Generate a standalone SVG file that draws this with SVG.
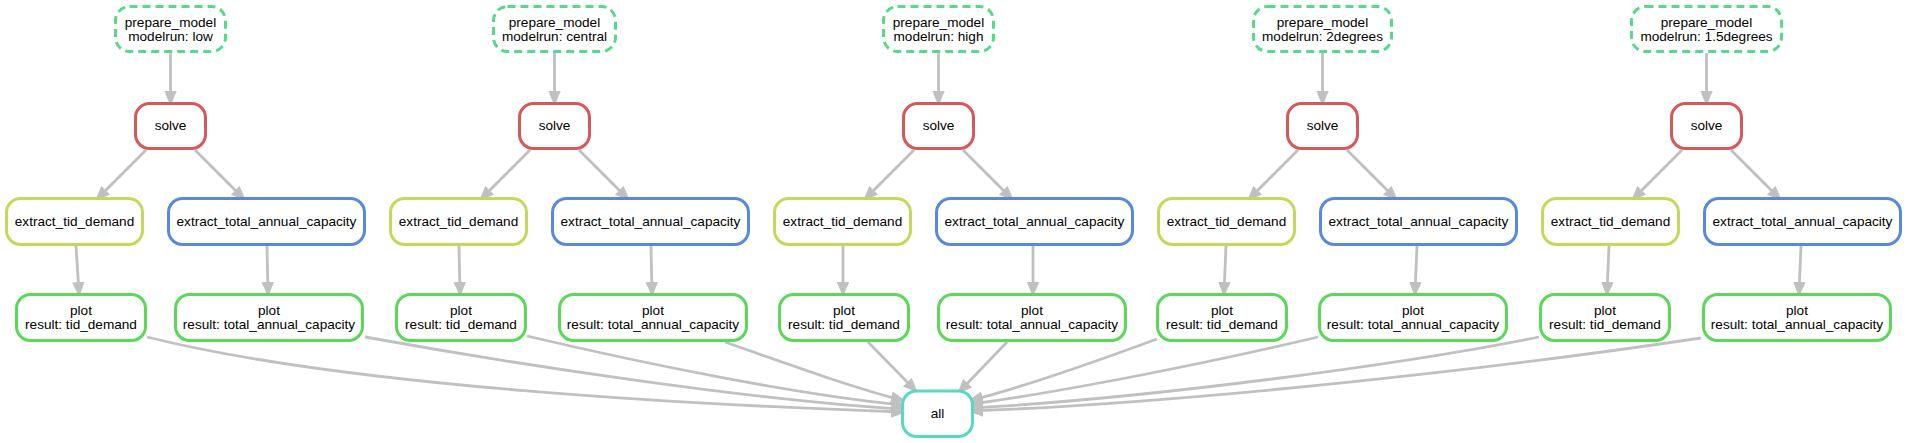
<svg xmlns="http://www.w3.org/2000/svg" width="1907" height="443" viewBox="0 0 1907 443">
<style>
.n rect{fill:#fff;stroke-width:3}
.n text{font-family:"Liberation Sans",Arial,sans-serif;font-size:13.6px;fill:#000;text-anchor:middle}
.prep rect{stroke:#57d98b;stroke-dasharray:8,5}
.solve rect{stroke:#d95757}
.tid rect{stroke:#c5d957}
.tot rect{stroke:#578bd9}
.plot rect{stroke:#5ad957}
.all rect{stroke:#57d9c1}
#edges path{fill:none;stroke:#c0c0c0;stroke-width:2.8;marker-end:url(#ah)}
</style>
<defs>
<marker id="ah" markerUnits="userSpaceOnUse" markerWidth="16" markerHeight="13" refX="11" refY="6.5" orient="auto">
<path d="M0,0.3 L15,6.5 L0,12.7 z" fill="#c0c0c0"/>
</marker>
</defs>
<g id="edges">
<!-- group 1 -->
<path d="M170.5,53 L170.5,102"/>
<path d="M146,150 L98,198"/>
<path d="M195,150 L243,198"/>
<path d="M76,246 L79,293"/>
<path d="M267,246 L268,293"/>
<!-- group 2 -->
<path d="M554.5,53 L554.5,102"/>
<path d="M530,150 L482,198"/>
<path d="M579,150 L627,198"/>
<path d="M459,246 L460,293"/>
<path d="M651,246 L652,293"/>
<!-- group 3 -->
<path d="M938.5,53 L938.5,102"/>
<path d="M914,150 L866,198"/>
<path d="M963,150 L1011,198"/>
<path d="M843,246 L843,293"/>
<path d="M1033,246 L1033,293"/>
<!-- group 4 -->
<path d="M1322.5,53 L1322.5,102"/>
<path d="M1298,150 L1250,198"/>
<path d="M1347,150 L1395,198"/>
<path d="M1226,246 L1224,293"/>
<path d="M1417,246 L1415,293"/>
<!-- group 5 -->
<path d="M1706.5,53 L1706.5,102"/>
<path d="M1682,150 L1634,198"/>
<path d="M1731,150 L1779,198"/>
<path d="M1609,246 L1607,293"/>
<path d="M1801,246 L1799,293"/>
<!-- to all -->
<path d="M147,337 C347,387 700,405 902,412"/>
<path d="M365,337 C520,365 750,400 902,409"/>
<path d="M527,336 C650,365 800,395 902,405"/>
<path d="M725,342 C790,365 860,390 902,400"/>
<path d="M868,342 L915,390"/>
<path d="M1007,342 L960,391"/>
<path d="M1157,339 C1100,360 1020,388 972,400"/>
<path d="M1318,337 C1200,365 1060,392 972,404"/>
<path d="M1539,337 C1400,365 1150,398 972,408"/>
<path d="M1701,338 C1500,368 1200,402 972,411"/>
</g>
<!-- group 1 -->
<g id="prep_low" class="n prep"><rect x="115.5" y="6.5" width="110" height="45" rx="14"/><text x="170.5" y="27">prepare_model</text><text x="170.5" y="41">modelrun: low</text></g>
<g id="solve_low" class="n solve"><rect x="135.5" y="103.5" width="70" height="45" rx="14"/><text x="170.5" y="130">solve</text></g>
<g id="tid_low" class="n tid"><rect x="6.5" y="198.5" width="136" height="46" rx="14"/><text x="74.5" y="226">extract_tid_demand</text></g>
<g id="tot_low" class="n tot"><rect x="168.5" y="198.5" width="196" height="46" rx="14"/><text x="266.5" y="226">extract_total_annual_capacity</text></g>
<g id="plottid_low" class="n plot"><rect x="16.5" y="294.5" width="129" height="46" rx="14"/><text x="81" y="315">plot</text><text x="81" y="329">result: tid_demand</text></g>
<g id="plottot_low" class="n plot"><rect x="175.5" y="294.5" width="187" height="46" rx="14"/><text x="269" y="315">plot</text><text x="269" y="329">result: total_annual_capacity</text></g>
<!-- group 2 -->
<g id="prep_central" class="n prep"><rect x="493.5" y="6.5" width="122" height="45" rx="14"/><text x="554.5" y="27">prepare_model</text><text x="554.5" y="41">modelrun: central</text></g>
<g id="solve_central" class="n solve"><rect x="519.5" y="103.5" width="70" height="45" rx="14"/><text x="554.5" y="130">solve</text></g>
<g id="tid_central" class="n tid"><rect x="390.5" y="198.5" width="136" height="46" rx="14"/><text x="458.5" y="226">extract_tid_demand</text></g>
<g id="tot_central" class="n tot"><rect x="552.5" y="198.5" width="196" height="46" rx="14"/><text x="650.5" y="226">extract_total_annual_capacity</text></g>
<g id="plottid_central" class="n plot"><rect x="396.5" y="294.5" width="129" height="46" rx="14"/><text x="461" y="315">plot</text><text x="461" y="329">result: tid_demand</text></g>
<g id="plottot_central" class="n plot"><rect x="559.5" y="294.5" width="187" height="46" rx="14"/><text x="653" y="315">plot</text><text x="653" y="329">result: total_annual_capacity</text></g>
<!-- group 3 -->
<g id="prep_high" class="n prep"><rect x="883.5" y="6.5" width="110" height="45" rx="14"/><text x="938.5" y="27">prepare_model</text><text x="938.5" y="41">modelrun: high</text></g>
<g id="solve_high" class="n solve"><rect x="903.5" y="103.5" width="70" height="45" rx="14"/><text x="938.5" y="130">solve</text></g>
<g id="tid_high" class="n tid"><rect x="774.5" y="198.5" width="136" height="46" rx="14"/><text x="842.5" y="226">extract_tid_demand</text></g>
<g id="tot_high" class="n tot"><rect x="936.5" y="198.5" width="196" height="46" rx="14"/><text x="1034.5" y="226">extract_total_annual_capacity</text></g>
<g id="plottid_high" class="n plot"><rect x="779.5" y="294.5" width="129" height="46" rx="14"/><text x="844" y="315">plot</text><text x="844" y="329">result: tid_demand</text></g>
<g id="plottot_high" class="n plot"><rect x="938.5" y="294.5" width="187" height="46" rx="14"/><text x="1032" y="315">plot</text><text x="1032" y="329">result: total_annual_capacity</text></g>
<!-- group 4 -->
<g id="prep_2degrees" class="n prep"><rect x="1253.5" y="6.5" width="138" height="45" rx="14"/><text x="1322.5" y="27">prepare_model</text><text x="1322.5" y="41">modelrun: 2degrees</text></g>
<g id="solve_2degrees" class="n solve"><rect x="1287.5" y="103.5" width="70" height="45" rx="14"/><text x="1322.5" y="130">solve</text></g>
<g id="tid_2degrees" class="n tid"><rect x="1158.5" y="198.5" width="136" height="46" rx="14"/><text x="1226.5" y="226">extract_tid_demand</text></g>
<g id="tot_2degrees" class="n tot"><rect x="1320.5" y="198.5" width="196" height="46" rx="14"/><text x="1418.5" y="226">extract_total_annual_capacity</text></g>
<g id="plottid_2degrees" class="n plot"><rect x="1157.5" y="294.5" width="129" height="46" rx="14"/><text x="1222" y="315">plot</text><text x="1222" y="329">result: tid_demand</text></g>
<g id="plottot_2degrees" class="n plot"><rect x="1319.5" y="294.5" width="187" height="46" rx="14"/><text x="1413" y="315">plot</text><text x="1413" y="329">result: total_annual_capacity</text></g>
<!-- group 5 -->
<g id="prep_1_5degrees" class="n prep"><rect x="1631.5" y="6.5" width="150" height="45" rx="14"/><text x="1706.5" y="27">prepare_model</text><text x="1706.5" y="41">modelrun: 1.5degrees</text></g>
<g id="solve_1_5degrees" class="n solve"><rect x="1671.5" y="103.5" width="70" height="45" rx="14"/><text x="1706.5" y="130">solve</text></g>
<g id="tid_1_5degrees" class="n tid"><rect x="1542.5" y="198.5" width="136" height="46" rx="14"/><text x="1610.5" y="226">extract_tid_demand</text></g>
<g id="tot_1_5degrees" class="n tot"><rect x="1704.5" y="198.5" width="196" height="46" rx="14"/><text x="1802.5" y="226">extract_total_annual_capacity</text></g>
<g id="plottid_1_5degrees" class="n plot"><rect x="1540.5" y="294.5" width="129" height="46" rx="14"/><text x="1605" y="315">plot</text><text x="1605" y="329">result: tid_demand</text></g>
<g id="plottot_1_5degrees" class="n plot"><rect x="1703.5" y="294.5" width="187" height="46" rx="14"/><text x="1797" y="315">plot</text><text x="1797" y="329">result: total_annual_capacity</text></g>
<!-- all -->
<g id="all" class="n all"><rect x="902.5" y="391" width="70" height="45.5" rx="14"/><text x="937.5" y="418">all</text></g>
</svg>
